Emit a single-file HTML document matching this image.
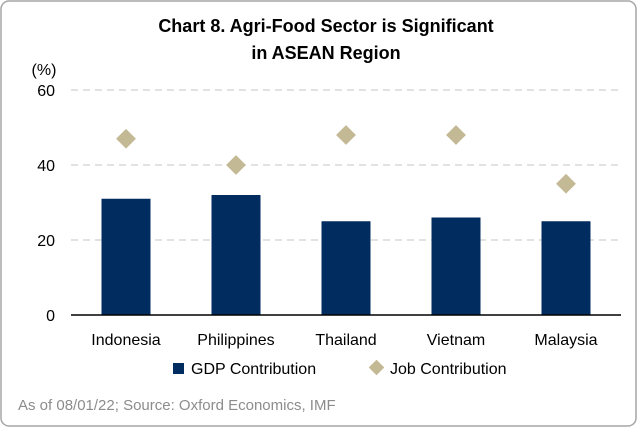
<!DOCTYPE html>
<html><head><meta charset="utf-8"><style>
body{margin:0;background:#fff;}
#wrap{position:relative;width:637px;height:427px;font-family:"Liberation Sans",Arial,sans-serif;}
</style></head><body>
<div id="wrap">
<svg id="chart" width="637" height="427" xmlns="http://www.w3.org/2000/svg">
<rect x="1" y="1" width="635" height="425" rx="8" fill="#fff" stroke="#a6a6a6" stroke-width="1.5"/>
<text x="326" y="32" text-anchor="middle" font-size="18" font-weight="bold" fill="#000">Chart 8. Agri-Food Sector is Significant</text>
<text x="326" y="59" text-anchor="middle" font-size="18" font-weight="bold" fill="#000">in ASEAN Region</text>
<text x="44" y="75" text-anchor="middle" font-size="16" fill="#000">(%)</text>
<g id="grid"></g><g id="bars"></g><g id="pts"></g>
<line x1="71" y1="315" x2="621" y2="315" stroke="#000" stroke-width="1.5"/>
<rect x="173" y="363" width="11" height="11" fill="#002c5f"/>
<text x="191" y="374" font-size="16" fill="#000">GDP Contribution</text>
<rect x="371" y="362" width="11" height="11" fill="#c3b994" transform="rotate(45 376.5 367.5)"/>
<text x="390" y="374" font-size="16" fill="#000">Job Contribution</text>
<text x="18" y="410" font-size="15" fill="#8c8c8c">As of 08/01/22; Source: Oxford Economics, IMF</text>
</svg></div>
<script>
const categories=["Indonesia","Philippines","Thailand","Vietnam","Malaysia"];
const gdpValues=[31,32,25,26,25];
const jobValues=[47,40,48,48,35];
const yTicks=[0,20,40,60];
const NS="http://www.w3.org/2000/svg";
const left=71,right=621,y0=315,y1=90,yMax=60;
const band=(right-left)/categories.length;
function xc(i){return left+band*(i+0.5);}
function ys(v){return y0-(v/yMax)*(y0-y1);}
function mk(tag,attrs,parent){const e=document.createElementNS(NS,tag);for(const k in attrs)e.setAttribute(k,attrs[k]);document.getElementById(parent).appendChild(e);return e;}
yTicks.forEach(t=>{
 if(t>0){const l=mk('line',{x1:left,x2:right,y1:ys(t),y2:ys(t),stroke:'#d9d9d9','stroke-width':1.5,'stroke-dasharray':'7,5'},'grid');
 
 }
 const tx=mk('text',{x:55,y:ys(t)+6,'text-anchor':'end','font-size':16,fill:'#000'},'grid');tx.textContent=t;
 
 
});
categories.forEach((c,i)=>{
 const bw=49;
 const r=mk('rect',{x:xc(i)-bw/2,y:ys(gdpValues[i]),width:bw,height:y0-ys(gdpValues[i]),fill:'#002c5f'},'bars');
 
 
 const s=14,cx=xc(i),cy=ys(jobValues[i]);
 const d=mk('rect',{x:cx-s/2,y:cy-s/2,width:s,height:s,fill:'#c3b994',transform:`rotate(45 ${cx} ${cy})`},'pts');
 
 
 const t=mk('text',{x:cx,y:345,'text-anchor':'middle','font-size':16,fill:'#000'},'pts');t.textContent=c;
 
 
});
</script>
</body></html>
